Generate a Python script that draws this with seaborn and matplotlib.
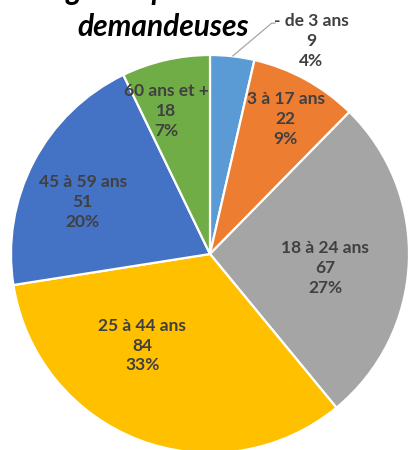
import numpy as np
import matplotlib
matplotlib.use("Agg")
import matplotlib.pyplot as plt
import seaborn as sns

categories = ["- de 3 ans", "3 à 17 ans", "18 à 24 ans", "25 à 44 ans", "45 à 59 ans", "60 ans et +"]
counts = [9, 22, 67, 84, 51, 18]
percents = ["4%", "9%", "27%", "33%", "20%", "7%"]
colors = ["#5B9BD5", "#ED7D31", "#A5A5A5", "#FFC000", "#4472C4", "#70AD47"]
title = "Âge des personnes\ndemandeuses"

sns.set_theme(style="white")
plt.rcParams["font.family"] = ["Lato", "DejaVu Sans"]

fig = plt.figure(figsize=(4.08, 4.5), dpi=100)
ax = fig.add_axes([0, 0, 1, 1])

R = 199.0
ax.pie(counts, colors=colors, startangle=90, counterclock=False,
       radius=1.0, wedgeprops=dict(edgecolor="white", linewidth=1.6))
ax.set_xlim(-210 / R, 198 / R)
ax.set_ylim(-196 / R, 254 / R)
ax.set_aspect("equal")
ax.axis("off")

# label placement (in pie radius units), like Excel "best fit"
label_pos = [(0.51, 1.07), (0.38, 0.68), (0.58, -0.07), (-0.34, -0.46),
             (-0.64, 0.26), (-0.22, 0.72)]
for cat, n, pct, (x, y) in zip(categories, counts, percents, label_pos):
    ax.text(x, y, f"{cat}\n{n}\n{pct}", ha="center", va="center",
            fontsize=12.5, fontweight="bold", color="#404040", linespacing=1.3)

# leader line for the small slice
mid = np.deg2rad(90 - counts[0] / sum(counts) * 180)
ax.plot([np.cos(mid), 0.31, 0.33], [np.sin(mid), 1.16, 1.16],
        color="#A6A6A6", lw=0.9, solid_capstyle="butt")

# title partly cropped at the top, as in the source image
fig.text(0.40, 0.985, title, ha="center", va="center", fontsize=21.5,
         fontweight="bold", fontstyle="italic", color="black", linespacing=1.35)

fig.savefig("out.png", dpi=100)
